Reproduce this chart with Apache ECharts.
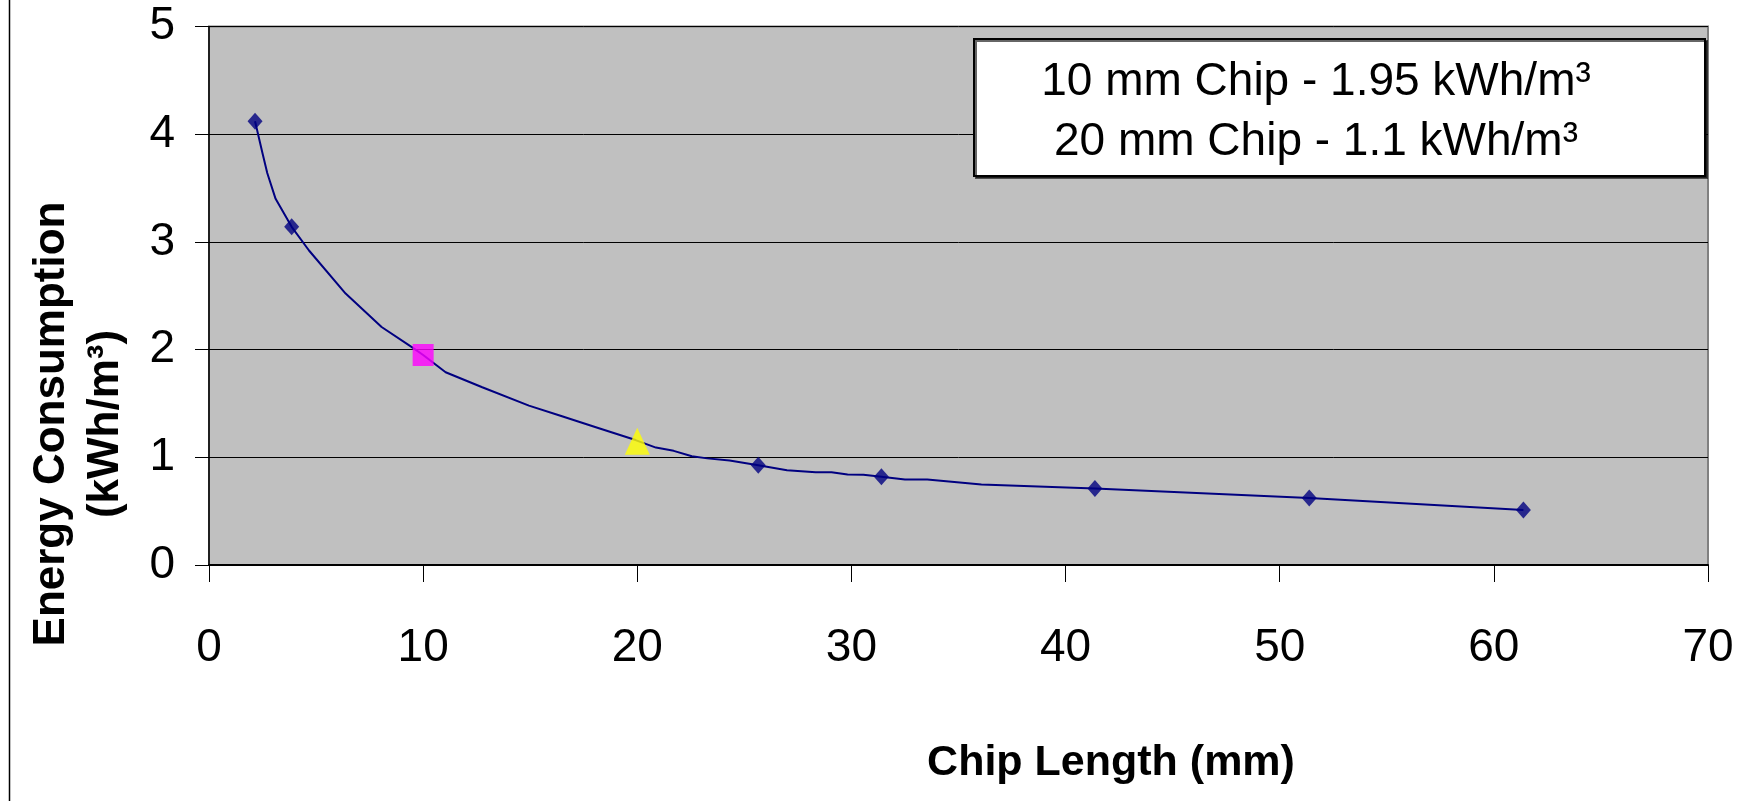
<!DOCTYPE html>
<html><head><meta charset="utf-8">
<script src="https://cdn.jsdelivr.net/npm/echarts@6/dist/echarts.min.js"></script>
<style>html,body{margin:0;padding:0;background:#fff}#c{width:1758px;height:801px}</style>
</head><body><div id="c"></div>
<script>
// Fitted curve
const curveX = [2.15, 2.49, 2.72, 3.11, 3.86, 4.67, 6.38, 8.06, 9.49, 10.0, 11.05, 12.76, 14.94, 16.34, 18.21, 19.92, 20.87, 21.7, 22.55, 23.27, 24.31, 25.65, 26.99, 28.33, 29.07, 29.82, 30.56, 31.4, 32.5, 33.54, 36.07, 41.37, 51.38, 61.38];
const curveY = [4.12, 3.83, 3.64, 3.40, 3.14, 2.92, 2.52, 2.21, 2.02, 1.95, 1.79, 1.65, 1.48, 1.39, 1.27, 1.16, 1.09, 1.06, 1.01, 0.99, 0.97, 0.926, 0.88, 0.862, 0.862, 0.84, 0.837, 0.819, 0.794, 0.794, 0.748, 0.711, 0.622, 0.511];
// Measured points (diamonds)
const pointX = [2.15, 3.86, 25.65, 31.4, 41.37, 51.38, 61.38];
const pointY = [4.12, 3.14, 0.926, 0.819, 0.711, 0.622, 0.511];
// Highlighted chips
const chip10X = [10];
const chip10Y = [1.95];
const chip20X = [20];
const chip20Y = [1.15];
// Texts
const boxLines = ['10 mm Chip - 1.95 kWh/m³', '20 mm Chip - 1.1 kWh/m³'];
const xTitle = 'Chip Length (mm)';
const yTitleLines = ['Energy Consumption', '(kWh/m³)'];

const zip = (a, b) => a.map((v, i) => [v, b[i]]);
const FONT = '"Liberation Sans", Arial, sans-serif';

const chart = echarts.init(document.getElementById('c'), null, {renderer: 'canvas'});
chart.setOption({
  animation: false,
  backgroundColor: '#ffffff',
  grid: {
    left: 209, right: 50, top: 26.5, bottom: 236,
    show: true, backgroundColor: '#C0C0C0', borderColor: '#808080', borderWidth: 2
  },
  xAxis: {
    type: 'value', min: 0, max: 70, interval: 10,
    axisLine: {show: true, onZero: false, lineStyle: {color: '#000', width: 2}},
    axisTick: {show: true, inside: false, length: 17, lineStyle: {color: '#000', width: 1}},
    axisLabel: {margin: 60, fontSize: 46, fontFamily: FONT, color: '#000'},
    splitLine: {show: false}
  },
  yAxis: {
    type: 'value', min: 0, max: 5, interval: 1,
    axisLine: {show: true, onZero: false, lineStyle: {color: '#000', width: 1.5}},
    axisTick: {show: true, inside: false, length: 14, lineStyle: {color: '#000', width: 1}},
    axisLabel: {margin: 34, fontSize: 46, fontFamily: FONT, color: '#000', padding: [4, 0, 0, 0]},
    splitLine: {show: true, lineStyle: {color: '#000', width: 1}}
  },
  series: [
    {
      name: 'Trend', type: 'line', data: zip(curveX, curveY),
      showSymbol: false, symbol: 'none', smooth: false,
      lineStyle: {color: '#000080', width: 2}, z: 3
    },
    {
      name: 'Measured', type: 'scatter', data: zip(pointX, pointY),
      symbol: 'diamond', symbolSize: [15, 17],
      itemStyle: {color: '#000080'}, z: 4
    },
    {
      name: '10 mm Chip', type: 'scatter', data: zip(chip10X, chip10Y),
      symbol: 'rect', symbolSize: [21, 22],
      itemStyle: {color: '#FF00FF'}, z: 5
    },
    {
      name: '20 mm Chip', type: 'scatter', data: zip(chip20X, chip20Y),
      symbol: 'triangle', symbolSize: [25, 27],
      itemStyle: {color: '#FFFF00'}, z: 5
    }
  ],
  graphic: [
    {
      type: 'line', z: 10,
      shape: {x1: 9.5, y1: 0, x2: 9.5, y2: 801},
      style: {stroke: '#000', lineWidth: 1.5}
    },
    {
      type: 'rect', z: 10,
      shape: {x: 974, y: 39, width: 731, height: 137},
      style: {fill: '#fff', stroke: '#000', lineWidth: 2, shadowColor: 'rgba(0,0,0,0.6)', shadowOffsetX: 2, shadowOffsetY: 2, shadowBlur: 0}
    },
    {
      type: 'text', z: 11, x: 1316, y: 112,
      style: {text: boxLines.join('\n'), fontSize: 46, fontFamily: FONT, fill: '#000', align: 'center', verticalAlign: 'middle', lineHeight: 60}
    },
    {
      type: 'text', z: 11, x: 1111, y: 763,
      style: {text: xTitle, fontSize: 43, fontWeight: 'bold', fontFamily: FONT, fill: '#000', align: 'center', verticalAlign: 'middle'}
    },
    {
      type: 'text', z: 11, x: 79, y: 424, rotation: Math.PI / 2,
      style: {text: yTitleLines.join('\n'), fontSize: 44, fontWeight: 'bold', fontFamily: FONT, fill: '#000', align: 'center', verticalAlign: 'middle', lineHeight: 54}
    }
  ]
});
</script>
</body></html>
